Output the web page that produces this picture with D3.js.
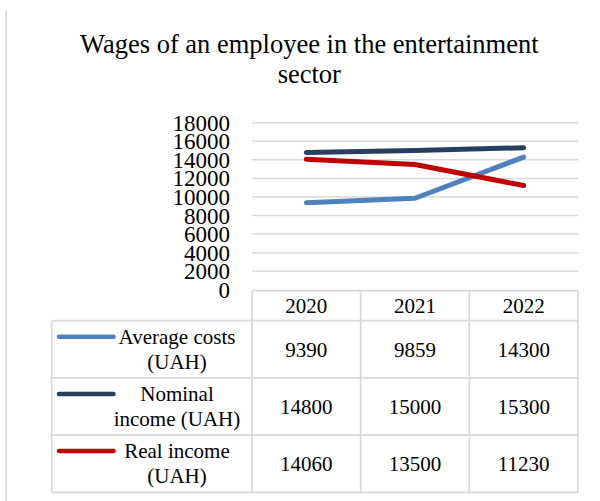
<!DOCTYPE html>
<html>
<head>
<meta charset="utf-8">
<script src="https://cdn.jsdelivr.net/npm/d3@7"></script>
<style>
  html, body { margin: 0; padding: 0; background: #fff; }
  svg { display: block; font-family: "Liberation Serif", "Times New Roman", serif; }
</style>
</head>
<body>
<svg id="chart" width="600" height="501"></svg>
<script>
// Chart data
const titleLines = ["Wages of an employee in the entertainment", "sector"];
const years = ["2020", "2021", "2022"];
const seriesNames = ["Average costs (UAH)", "Nominal income (UAH)", "Real income (UAH)"];
const seriesLabelLines = [["Average costs", "(UAH)"], ["Nominal", "income (UAH)"], ["Real income", "(UAH)"]];
const averageCosts = [9390, 9859, 14300];
const nominalIncome = [14800, 15000, 15300];
const realIncome = [14060, 13500, 11230];
const yTicks = [0, 2000, 4000, 6000, 8000, 10000, 12000, 14000, 16000, 18000];
const seriesColors = ["#4f81bd", "#243f60", "#c00000"];

const seriesValues = [averageCosts, nominalIncome, realIncome];
const series = seriesNames.map((name, i) => ({
  name, lines: seriesLabelLines[i], values: seriesValues[i], color: seriesColors[i]
}));

const svg = d3.select("#chart");
const gridColor = "#d9d9d9";

// Layout
const plotLeft = 252, plotRight = 578;
const plotTop = 122.7, plotBottom = 289.8;
const tableLeft = 51.7;
const headerTop = 290.7, headerBottom = 320.7, rowH = 57.2;

// Outer frame edge on the left
svg.append("line")
  .attr("x1", 6.2).attr("x2", 6.2).attr("y1", 11).attr("y2", 501)
  .attr("stroke", gridColor).attr("stroke-width", 2);

// Title
svg.append("text")
  .attr("x", 309.3).attr("y", 53.3)
  .attr("text-anchor", "middle")
  .attr("font-size", 26.5).attr("fill", "#000")
  .selectAll("tspan").data(titleLines).join("tspan")
  .attr("x", 309.3).attr("dy", (d, i) => i === 0 ? 0 : 30)
  .text(d => d);

// Scales
const x = d3.scaleBand().domain(years).range([plotLeft, plotRight]);
const y = d3.scaleLinear().domain([0, 18000]).range([plotBottom, plotTop]);

// Gridlines
svg.append("g").selectAll("line").data(yTicks.filter(t => t > 0)).join("line")
  .attr("x1", plotLeft).attr("x2", plotRight)
  .attr("y1", d => y(d)).attr("y2", d => y(d))
  .attr("stroke", gridColor).attr("stroke-width", 1.5);

// Y axis labels
const yAxis = d3.axisLeft(y).tickValues(yTicks).tickSize(0).tickPadding(0)
  .tickFormat(d3.format("d"));
const yG = svg.append("g").attr("transform", "translate(230,0)").call(yAxis);
yG.select(".domain").remove();
yG.selectAll("text")
  .attr("font-family", "Liberation Serif, Times New Roman, serif")
  .attr("font-size", 23).attr("fill", "#000").attr("dy", "0.33em");

// Lines
const line = d3.line()
  .x((d, i) => x(years[i]) + x.bandwidth() / 2)
  .y(d => y(d));

svg.append("g").selectAll("path").data(series).join("path")
  .attr("d", d => line(d.values))
  .attr("fill", "none")
  .attr("stroke", d => d.color)
  .attr("stroke-width", 5)
  .attr("stroke-linecap", "round")
  .attr("stroke-linejoin", "round");

// Data table
const table = svg.append("g");
const rowTop = i => headerBottom + i * rowH;
const tableBottom = rowTop(series.length);

// horizontal rules
table.append("line").attr("x1", plotLeft).attr("x2", plotRight)
  .attr("y1", headerTop).attr("y2", headerTop);
d3.range(series.length + 1).forEach(i => {
  table.append("line").attr("x1", tableLeft).attr("x2", plotRight)
    .attr("y1", rowTop(i)).attr("y2", rowTop(i));
});
// vertical rules
table.append("line").attr("x1", tableLeft).attr("x2", tableLeft)
  .attr("y1", headerBottom).attr("y2", tableBottom);
years.forEach(yr => {
  table.append("line").attr("x1", x(yr)).attr("x2", x(yr))
    .attr("y1", headerTop).attr("y2", tableBottom);
});
table.append("line").attr("x1", plotRight).attr("x2", plotRight)
  .attr("y1", headerTop).attr("y2", tableBottom);
table.selectAll("line").attr("stroke", gridColor).attr("stroke-width", 1.7);

// header years
table.selectAll("text.year").data(years).join("text")
  .attr("class", "year")
  .attr("x", d => x(d) + x.bandwidth() / 2)
  .attr("y", (headerTop + headerBottom) / 2)
  .attr("dy", "0.35em")
  .attr("text-anchor", "middle").attr("font-size", 21).attr("fill", "#000")
  .text(d => d);

// series rows
series.forEach((s, i) => {
  const cy = rowTop(i) + rowH / 2;
  // legend key
  table.append("line")
    .attr("x1", 59).attr("x2", 113.5).attr("y1", rowTop(i) + 16).attr("y2", rowTop(i) + 16)
    .attr("stroke", s.color).attr("stroke-width", 4.5).attr("stroke-linecap", "round");
  // label
  table.append("text")
    .attr("text-anchor", "middle").attr("font-size", 21).attr("fill", "#000")
    .selectAll("tspan").data(s.lines).join("tspan")
    .attr("x", 177)
    .attr("y", (d, j) => cy + (j - 0.5) * 25 + 7)
    .text(d => d);
  // values
  table.selectAll(null).data(s.values).join("text")
    .attr("x", (d, j) => x(years[j]) + x.bandwidth() / 2)
    .attr("y", cy).attr("dy", "0.35em")
    .attr("text-anchor", "middle").attr("font-size", 21).attr("fill", "#000")
    .text(d => d);
});
</script>
</body>
</html>
